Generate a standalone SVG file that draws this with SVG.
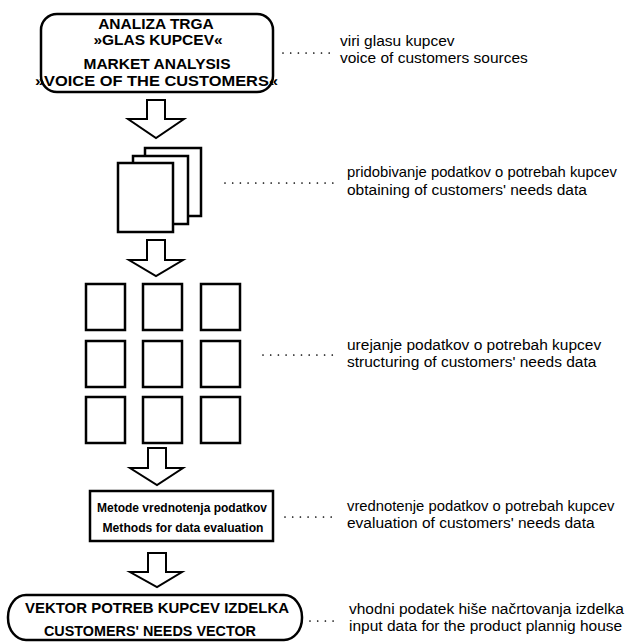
<svg xmlns="http://www.w3.org/2000/svg" width="627" height="642" viewBox="0 0 627 642">
  <style>
    .box { fill: #fff; stroke: #000; stroke-width: 2.5; }
    .arrow { fill: #fff; stroke: #000; stroke-width: 2; stroke-linejoin: miter; }
    .lead { fill: none; stroke: #000; stroke-width: 1.7; stroke-linecap: round; stroke-dasharray: 0 7.7; }
    .b { font-family: "Liberation Sans", Arial, sans-serif; font-weight: bold; fill: #000; text-anchor: middle; }
    .r { font-family: "Liberation Sans", Arial, sans-serif; font-size: 15.5px; fill: #000; }
    .r.long { font-size: 14.8px; }
  </style>
  <rect width="627" height="642" fill="#fff"/>

  <!-- process stages -->
  <g id="market-analysis">
    <rect class="box" x="41" y="14" width="232" height="78" rx="16" ry="16"/>
    <text class="b" font-size="15.5" x="156" y="29">ANALIZA TRGA</text>
    <text class="b" font-size="15.5" x="158" y="45">»GLAS KUPCEV«</text>
    <text class="b" font-size="15.5" x="157" y="69">MARKET ANALYSIS</text>
    <text class="b" font-size="15.5" x="156.5" y="85.5" textLength="243" lengthAdjust="spacingAndGlyphs">»VOICE OF THE CUSTOMERS«</text>
  </g>

  <g id="documents">
    <rect class="box" x="145" y="148" width="56" height="68"/>
    <rect class="box" x="133" y="156" width="55" height="68"/>
    <rect class="box" x="118" y="163" width="55" height="69"/>
  </g>

  <g id="structuring-grid">
    <rect class="box" x="86" y="284" width="39" height="46"/>
    <rect class="box" x="143" y="284" width="39" height="46"/>
    <rect class="box" x="201" y="284" width="39" height="46"/>
    <rect class="box" x="86" y="341" width="39" height="46"/>
    <rect class="box" x="143" y="341" width="39" height="46"/>
    <rect class="box" x="201" y="341" width="39" height="46"/>
    <rect class="box" x="86" y="397" width="39" height="46"/>
    <rect class="box" x="143" y="397" width="39" height="46"/>
    <rect class="box" x="201" y="397" width="39" height="46"/>
  </g>

  <g id="evaluation-methods">
    <rect class="box" x="90" y="491" width="183" height="50"/>
    <text class="b" font-size="13.5" x="182" y="512" textLength="170" lengthAdjust="spacingAndGlyphs">Metode vrednotenja podatkov</text>
    <text class="b" font-size="13.5" x="183" y="532" textLength="161" lengthAdjust="spacingAndGlyphs">Methods for data evaluation</text>
  </g>

  <g id="needs-vector">
    <rect class="box" x="8" y="595" width="294" height="45" rx="18" ry="22"/>
    <text class="b" font-size="15" x="157" y="612.5" textLength="264" lengthAdjust="spacingAndGlyphs">VEKTOR POTREB KUPCEV IZDELKA</text>
    <text class="b" font-size="15" x="150" y="635.5" textLength="212" lengthAdjust="spacingAndGlyphs">CUSTOMERS' NEEDS VECTOR</text>
  </g>

  <!-- flow arrows and dotted leaders -->
  <g id="connectors">
    <path class="arrow" d="M147,100 H165 V119 H184 L156,138 L128,119 H147 Z"/>
    <path class="arrow" d="M147,240 H165 V260 H183 L156,276 L129,260 H147 Z"/>
    <path class="arrow" d="M148,448 H166 V468 H183 L157,485 L130,468 H148 Z"/>
    <path class="arrow" d="M148,553 H166 V572 H182 L157,587 L130,572 H148 Z"/>

    <line class="lead" x1="283" y1="53" x2="331" y2="53"/>
    <line class="lead" x1="225" y1="183" x2="334" y2="183"/>
    <line class="lead" x1="263" y1="355" x2="333" y2="355"/>
    <line class="lead" x1="285" y1="517" x2="332" y2="517"/>
    <line class="lead" x1="310" y1="621" x2="334" y2="621"/>
  </g>

  <!-- stage descriptions -->
  <g id="labels">
    <text class="r" x="340" y="46">viri glasu kupcev</text>
    <text class="r" x="340" y="63">voice of customers sources</text>
    <text class="r long" x="347" y="177">pridobivanje podatkov o potrebah kupcev</text>
    <text class="r" x="347" y="195">obtaining of customers' needs data</text>
    <text class="r" x="347" y="350">urejanje podatkov o potrebah kupcev</text>
    <text class="r" x="347" y="367">structuring of customers' needs data</text>
    <text class="r long" x="347" y="511">vrednotenje podatkov o potrebah kupcev</text>
    <text class="r" x="347" y="528">evaluation of customers' needs data</text>
    <text class="r" x="349" y="614">vhodni podatek hiše načrtovanja izdelka</text>
    <text class="r" x="349" y="631">input data for the product plannig house</text>
  </g>
</svg>
